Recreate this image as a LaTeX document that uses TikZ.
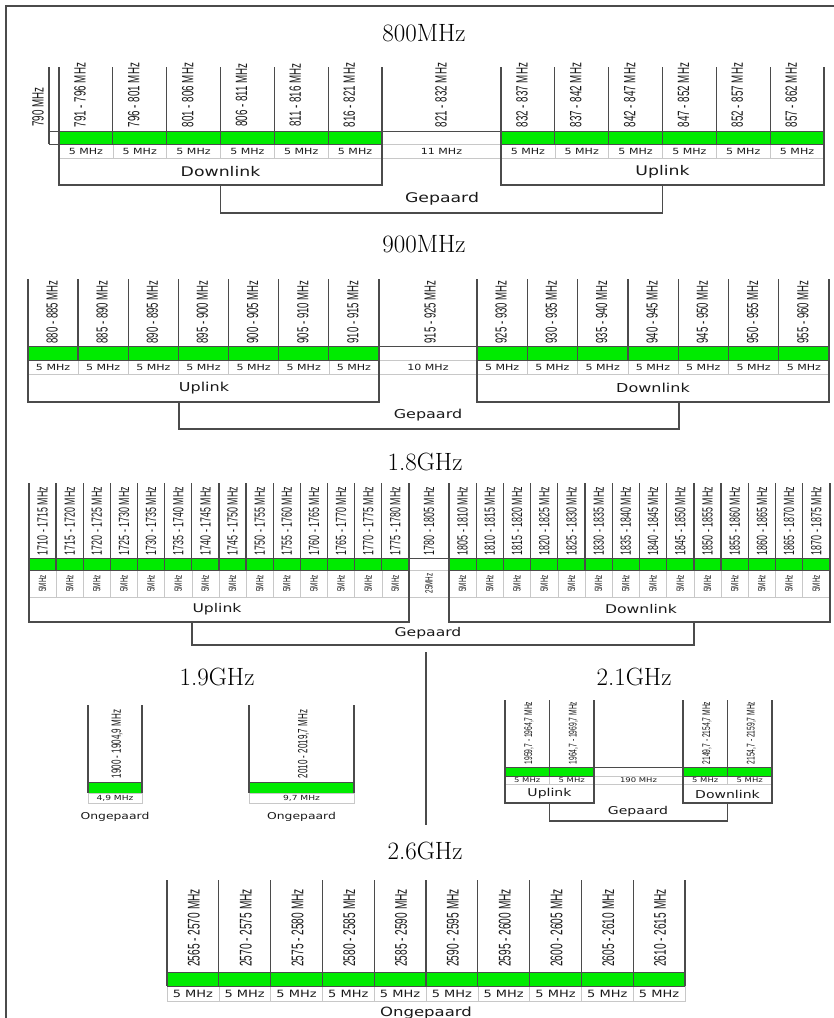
\documentclass[tikz,border=0pt]{standalone}
\usepackage{fontspec}
\newfontfamily\chanfont[FakeStretch=0.6]{Liberation Sans}
\newfontfamily\lblfont[FakeStretch=1.3]{DejaVu Sans}
\definecolor{chgreen}{RGB}{0,235,0}
\definecolor{sepgray}{RGB}{75,75,75}
\definecolor{cellgray}{RGB}{200,200,200}

\begin{document}
\begin{tikzpicture}[x=1pt,y=-1pt,
    every node/.style={inner sep=0pt},
    sep/.style={draw=sepgray,line width=1.3pt},
    edge/.style={draw=sepgray,line width=0.6pt},
    cell/.style={draw=cellgray,line width=0.6pt},
    band/.style={font=\fontsize{25}{25}\selectfont},
    chan/.style={rotate=90,text=black!90,font=\chanfont\fontsize{#1}{#1}\selectfont},
    lbl/.style={text=black!90,font=\lblfont\fontsize{#1}{#1}\selectfont}]

\useasboundingbox (0,0) rectangle (834,1018);
\draw[sep] (6,1018) -- (6,6) -- (834,6);

% 800MHz
\node[band] (t800) at (424,33) {800MHz};
\foreach \xo/\f/\k in {59/791/d,501/832/u}{
  \foreach \i in {0,...,5}{
    \pgfmathsetmacro{\xa}{\xo+\i*53.83}
    \pgfmathtruncatemacro{\lo}{\f+5*\i}
    \pgfmathtruncatemacro{\hi}{\lo+5}
    \fill[chgreen] (\xa,131) rectangle ++(53.83,13);
    \draw[cell] (\xa,144) rectangle ++(53.83,14);
    \draw[sep] (\xa,67) -- (\xa,144);
    \node[chan=16.3] (r800\k\i) at ({\xa+21},95) {\lo\ - \hi\ MHz};
    \node[lbl=8.5] (w800\k\i) at ({\xa+26.9},151) {5 MHz};
  }
}
\draw[edge] (49,131) -- (824,131) (49,144) -- (824,144);
\draw[sep] (49,67) -- (49,144);
\node[chan=16.3] (r790) at (38,107) {790 MHz};
\draw[cell] (382,144) rectangle (501,158);
\node[chan=16.3] (r800g) at (441,95) {821 - 832 MHz};
\node[lbl=8.5] (w800g) at (441.5,151) {11 MHz};
\draw[sep] (59,67) |- (382,185) -- (382,67);
\draw[sep] (501,67) |- (824,185) -- (824,67);
\node[lbl=13.3] (dl800) at (220.5,172) {Downlink};
\node[lbl=13.3] (ul800) at (662.5,172) {Uplink};
\coordinate (p800a) at (220.5,185);
\coordinate (p800b) at (662.5,185);
\draw[sep] (p800a) -- ++(0,28) -| (p800b);
\node[lbl=13.3] (gp800) at (442,199) {Gepaard};

% 900MHz
\node[band] (t900) at (424,244) {900MHz};
\foreach \xo/\w/\f/\k in {28/50.14/880/u,477/50.29/925/d}{
  \foreach \i in {0,...,6}{
    \pgfmathsetmacro{\xa}{\xo+\i*\w}
    \pgfmathtruncatemacro{\lo}{\f+5*\i}
    \pgfmathtruncatemacro{\hi}{\lo+5}
    \fill[chgreen] (\xa,346) rectangle ++(\w,14);
    \draw[cell] (\xa,360) rectangle ++(\w,14);
    \draw[sep] (\xa,279) -- (\xa,360);
    \node[chan=16] (r900\k\i) at ({\xa+\w/2-1},312) {\lo\ - \hi\ MHz};
    \node[lbl=8.5] (w900\k\i) at ({\xa+\w/2},367) {5 MHz};
  }
}
\draw[edge] (28,346) -- (829,346) (28,360) -- (829,360);
\draw[cell] (379,360) rectangle (477,374);
\node[chan=16] (r900g) at (430,312) {915 - 925 MHz};
\node[lbl=8.5] (w900g) at (428,367) {10 MHz};
\draw[sep] (28,279) |- (379,402) -- (379,279);
\draw[sep] (477,279) |- (829,402) -- (829,279);
\node[lbl=12.3] (ul900) at (204,388) {Uplink};
\node[lbl=12.3] (dl900) at (653,388) {Downlink};
\coordinate (p900a) at (179,402);
\coordinate (p900b) at (679,402);
\draw[sep] (p900a) -- ++(0,27) -| (p900b);
\node[lbl=12.3] (gp900) at (428,415) {Gepaard};

% 1.8GHz
\node[band] (t18) at (425,462) {1.8GHz};
\foreach \xo/\w/\f/\k in {29/27.14/1710/u,449/27.21/1805/d}{
  \foreach \i in {0,...,13}{
    \pgfmathsetmacro{\xa}{\xo+\i*\w}
    \pgfmathtruncatemacro{\lo}{\f+5*\i}
    \pgfmathtruncatemacro{\hi}{\lo+5}
    \fill[chgreen] (\xa,558) rectangle ++(\w,12);
    \draw[cell] (\xa,570) rectangle ++(\w,27);
    \draw[sep] (\xa,483) -- (\xa,570);
    \node[chan=14.8] (r18\k\i) at ({\xa+\w/2},521) {\lo\ - \hi\ MHz};
    \node[chan=10.5] (w18\k\i) at ({\xa+\w/2},583.5) {5MHz};
  }
}
\draw[edge] (29,558) -- (830,558) (29,570) -- (830,570);
\draw[cell] (409,570) rectangle (449,597);
\node[chan=14.8] (r18g) at (429,521) {1780 - 1805 MHz};
\node[chan=10.5] (w18g) at (429,583.5) {25MHz};
\draw[sep] (29,483) |- (409,622) -- (409,483);
\draw[sep] (449,483) |- (830,622) -- (830,483);
\node[lbl=12] (ul18) at (217,609) {Uplink};
\node[lbl=12] (dl18) at (641,609) {Downlink};
\coordinate (p18a) at (192,622);
\coordinate (p18b) at (694,622);
\draw[sep] (p18a) -- ++(0,23) -| (p18b);
\node[lbl=12] (gp18) at (428,633) {Gepaard};

% 1.9GHz
\node[band] (t19) at (217,677) {1.9GHz};
\foreach \xa/\xb/\t/\m/\k in {88/142/1900 - 1904{,}9/4{,}9/a,249/354/2010 - 2019{,}7/9{,}7/b}{
  \fill[chgreen,draw=sepgray,line width=0.6pt] (\xa,782) rectangle (\xb,793);
  \draw[cell] (\xa,793) rectangle (\xb,803);
  \draw[sep] (\xa,705) -- (\xa,793) (\xb,705) -- (\xb,793);
  \node[chan=13.4] (r19\k) at ({(\xa+\xb)/2+2},744) {\t\ MHz};
  \node[lbl=7] (w19\k) at ({(\xa+\xb)/2},798) {\m\ MHz};
  \node[lbl=9.5] (o19\k) at ({(\xa+\xb)/2},816.5) {Ongepaard};
}
\draw[sep] (426,652) -- (426,825);

% 2.1GHz
\node[band] (t21) at (634,677) {2.1GHz};
\foreach \xa/\t/\k in {505/{1959,7 - 1964,7}/a,549.5/{1964,7 - 1969,7}/b,683/{2149,7 - 2154,7}/c,727.5/{2154,7 - 2159,7}/d}{
  \fill[chgreen] (\xa,767) rectangle ++(44.5,9);
  \draw[cell] (\xa,776) rectangle ++(44.5,8);
  \draw[sep] (\xa,700) -- (\xa,776);
  \node[chan=11.2] (r21\k) at ({\xa+24},733) {\t\ MHz};
  \node[lbl=6.5] (w21\k) at ({\xa+22.25},780) {5 MHz};
}
\draw[edge] (505,767) -- (772,767) (505,776) -- (772,776);
\draw[cell] (594,776) rectangle (683,784);
\node[lbl=6.5] (w21g) at (638.5,780) {190 MHz};
\draw[sep] (505,700) |- (594,803) -- (594,700);
\draw[sep] (683,700) |- (772,803) -- (772,700);
\node[lbl=10.8] (ul21) at (549.5,794) {Uplink};
\node[lbl=10.8] (dl21) at (727.5,794) {Downlink};
\coordinate (p21a) at (549.5,803);
\coordinate (p21b) at (727.5,803);
\draw[sep] (p21a) -- ++(0,18) -| (p21b);
\node[lbl=10.8] (gp21) at (638,812) {Gepaard};

% 2.6GHz
\node[band] (t26) at (425,851) {2.6GHz};
\foreach \i in {0,...,9}{
  \pgfmathsetmacro{\xa}{167+\i*51.8}
  \pgfmathtruncatemacro{\lo}{2565+5*\i}
  \pgfmathtruncatemacro{\hi}{\lo+5}
  \fill[chgreen] (\xa,972) rectangle ++(51.8,14);
  \draw[cell] (\xa,986) rectangle ++(51.8,15);
  \draw[sep] (\xa,880) -- (\xa,986);
  \node[chan=16.9] (r26\i) at ({\xa+26.9},928) {\lo\ - \hi\ MHz};
  \node[lbl=10] (w26\i) at ({\xa+25.9},993.5) {5 MHz};
}
\draw[sep] (685,880) -- (685,986);
\draw[edge] (167,972) -- (685,972) (167,986) -- (685,986);
\node[lbl=12.7] (og26) at (426,1013) {Ongepaard};
\end{tikzpicture}
\end{document}
